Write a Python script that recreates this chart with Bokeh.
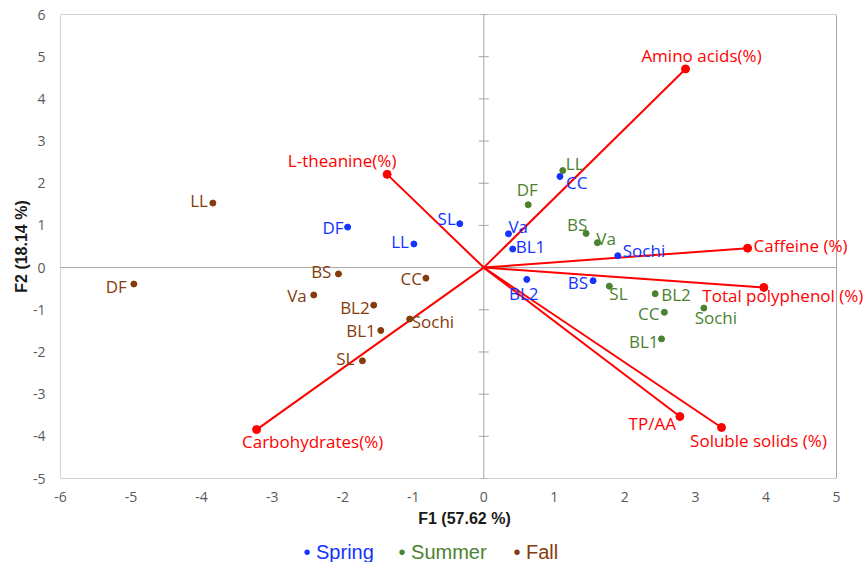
from bokeh.plotting import figure
from bokeh.models import Range1d, LabelSet, ColumnDataSource, FixedTicker
from bokeh.layouts import column
from bokeh.core.properties import value
from bokeh.embed import file_html
from bokeh.resources import INLINE

# ---------------- data ----------------
spring_names = ["DF", "LL", "SL", "Va", "BL1", "CC", "Sochi", "BS", "BL2"]
spring_f1 = [-1.93, -0.99, -0.34, 0.35, 0.41, 1.08, 1.90, 1.55, 0.61]
spring_f2 = [0.96, 0.56, 1.04, 0.80, 0.44, 2.16, 0.28, -0.31, -0.28]

summer_names = ["LL", "DF", "BS", "Va", "SL", "BL2", "CC", "Sochi", "BL1"]
summer_f1 = [1.12, 0.63, 1.45, 1.61, 1.78, 2.43, 2.56, 3.12, 2.52]
summer_f2 = [2.30, 1.49, 0.81, 0.59, -0.44, -0.62, -1.06, -0.96, -1.69]

fall_names = ["LL", "DF", "BS", "Va", "BL2", "BL1", "SL", "CC", "Sochi"]
fall_f1 = [-3.84, -4.96, -2.06, -2.41, -1.56, -1.46, -1.72, -0.82, -1.05]
fall_f2 = [1.53, -0.39, -0.15, -0.65, -0.89, -1.49, -2.21, -0.25, -1.22]

variables = ["Amino acids(%)", "Caffeine (%)", "Total polyphenol (%)", "TP/AA",
             "Soluble solids (%)", "L-theanine(%)", "Carbohydrates(%)"]
var_f1 = [2.86, 3.74, 3.97, 2.78, 3.37, -1.37, -3.22]
var_f2 = [4.71, 0.46, -0.47, -3.53, -3.79, 2.21, -3.84]

x_ticks = [-6, -5, -4, -3, -2, -1, 0, 1, 2, 3, 4, 5]
y_ticks = [-5, -4, -3, -2, -1, 0, 1, 2, 3, 4, 5, 6]
seasons = ["Spring", "Summer", "Fall"]

# ---------------- label placement (align, dx px, dy px; dy positive = down) ----------------
spring_lab = [("right", -4, 0), ("right", -5, -2), ("right", -4, -5), ("left", 0, -7),
              ("left", 3, -3), ("left", 6, 6), ("left", 5, -5), ("right", -5, 2), ("center", -3, 14)]
summer_lab = [("left", 3, -7), ("center", -1, -15), ("center", -9, -9), ("left", -1, -4),
              ("left", 0, 7), ("left", 6, 1), ("right", -5, 1), ("center", 12, 9), ("right", -3, 3)]
fall_lab = [("right", -5, -3), ("right", -7, 2), ("right", -7, -2), ("right", -7, 0),
            ("right", -4, 2), ("right", -5, 0), ("right", -8, -2), ("right", -4, 0), ("left", 2, 2)]
var_lab = [("center", 16, -13), ("left", 6, -3), ("center", 19, 8), ("right", -4, 7),
           ("center", 37, 13), ("center", -45, -14), ("center", 56, 12)]

BLUE = "#1433ff"
GREEN = "#4b8230"
BROWN = "#843c0c"
RED = "#ff0000"
GRAY = "#a6a6a6"
FONT = "Open Sans"

# ---------------- geometry ----------------
W, H_MAIN, H_LEG = 868, 540, 22
B_LEFT, B_TOP, B_BOTTOM = 60, 14, 62
x_lo, x_hi = x_ticks[0], x_ticks[-1]
y_lo, y_hi = y_ticks[0], y_ticks[-1]
box_w = 776.0  # visible box width in px
ppu = box_w / (x_hi - x_lo)
x_end = x_lo + (W - B_LEFT) / ppu          # frame extends to the right edge so labels are not clipped

p = figure(width=W, height=H_MAIN, x_range=Range1d(x_lo, x_end), y_range=Range1d(y_lo, y_hi),
           output_backend="svg", toolbar_location=None,
           min_border_left=B_LEFT, min_border_right=0, min_border_top=B_TOP, min_border_bottom=B_BOTTOM)
p.grid.visible = False
p.outline_line_color = None
p.background_fill_color = "white"
p.border_fill_color = "white"

for ax in (p.xaxis[0], p.yaxis[0]):
    ax.axis_line_color = None
    ax.major_tick_line_color = None
    ax.minor_tick_line_color = None
    ax.major_tick_out = 0
    ax.major_tick_in = 0
    ax.major_label_text_font = FONT
    ax.major_label_text_font_size = "14px"
    ax.major_label_text_color = "#595959"
    ax.axis_label_text_font = "Liberation Sans"
    ax.axis_label_text_font_style = "bold"
    ax.axis_label_text_font_size = "16px"
    ax.axis_label_text_color = "#1a1a1a"

p.xaxis.ticker = FixedTicker(ticks=x_ticks)
p.yaxis.ticker = FixedTicker(ticks=y_ticks)
p.xaxis.major_label_overrides = {t: str(t) for t in x_ticks}
p.yaxis.major_label_overrides = {t: str(t) for t in y_ticks}
p.xaxis.bounds = (x_lo, x_hi)
p.xaxis.major_label_standoff = 13
p.yaxis.major_label_standoff = 15
p.xaxis.axis_label = "F1 (57.62 %)"
p.yaxis.axis_label = "F2 (18.14 %)"
p.xaxis.axis_label_standoff = 5
p.yaxis.axis_label_standoff = 0

# plot box and axes through origin
p.quad(left=[x_lo], right=[x_hi], bottom=[y_lo], top=[y_hi], fill_color=None, line_color=GRAY, line_width=1)
p.segment(x0=[x_lo], x1=[x_hi], y0=[0], y1=[0], line_color=GRAY, line_width=1)
p.segment(x0=[0], x1=[0], y0=[y_lo], y1=[y_hi], line_color=GRAY, line_width=1)
p.scatter(x=[0] * len(y_ticks), y=y_ticks, marker="dash", size=10, line_color=GRAY, line_width=1)

# variable vectors
vsrc = ColumnDataSource(dict(x0=[0] * len(var_f1), y0=[0] * len(var_f1), x=var_f1, y=var_f2, name=variables,
                             align=[a for a, _, _ in var_lab], dx=[d for _, d, _ in var_lab],
                             dy=[-e for _, _, e in var_lab]))
p.segment(x0="x0", y0="y0", x1="x", y1="y", source=vsrc, line_color=RED, line_width=2)
p.scatter(x="x", y="y", source=vsrc, size=8, fill_color=RED, line_color=RED)
p.add_layout(LabelSet(x="x", y="y", text="name", source=vsrc, x_offset="dx", y_offset="dy",
                      text_align="align", text_baseline="middle", text_color=RED,
                      text_font=value(FONT), text_font_size="17px"))

# observations
for names, fx, fy, lab, col in [(spring_names, spring_f1, spring_f2, spring_lab, BLUE),
                                 (summer_names, summer_f1, summer_f2, summer_lab, GREEN),
                                 (fall_names, fall_f1, fall_f2, fall_lab, BROWN)]:
    src = ColumnDataSource(dict(x=fx, y=fy, name=names,
                                align=[a for a, _, _ in lab], dx=[d for _, d, _ in lab],
                                dy=[-e for _, _, e in lab]))
    p.scatter(x="x", y="y", source=src, size=6, fill_color=col, line_color=col)
    p.add_layout(LabelSet(x="x", y="y", text="name", source=src, x_offset="dx", y_offset="dy",
                          text_align="align", text_baseline="middle", text_color=col,
                          text_font=value(FONT), text_font_size="17px"))

# legend strip below the plot (its frame is aligned with the main frame by the column layout)
leg = figure(width=W, height=H_LEG, x_range=Range1d(x_lo, x_end), y_range=Range1d(0, 1),
             output_backend="svg", toolbar_location=None,
             min_border_left=B_LEFT, min_border_right=0, min_border_top=0, min_border_bottom=0,
             x_axis_location=None, y_axis_location=None)
leg.grid.visible = False
leg.outline_line_color = None
leg_x = [-2.556, -1.209, 0.421]
leg.text(x=leg_x, y=[0.5] * 3, text=["\u2022 " + s for s in seasons],
         text_color=[BLUE, GREEN, BROWN], text_font=value("Liberation Sans"), text_font_size="20px",
         text_baseline="middle", text_align="left")

layout = column(p, leg, spacing=0)
open("out.html", "w").write(file_html(layout, INLINE))
